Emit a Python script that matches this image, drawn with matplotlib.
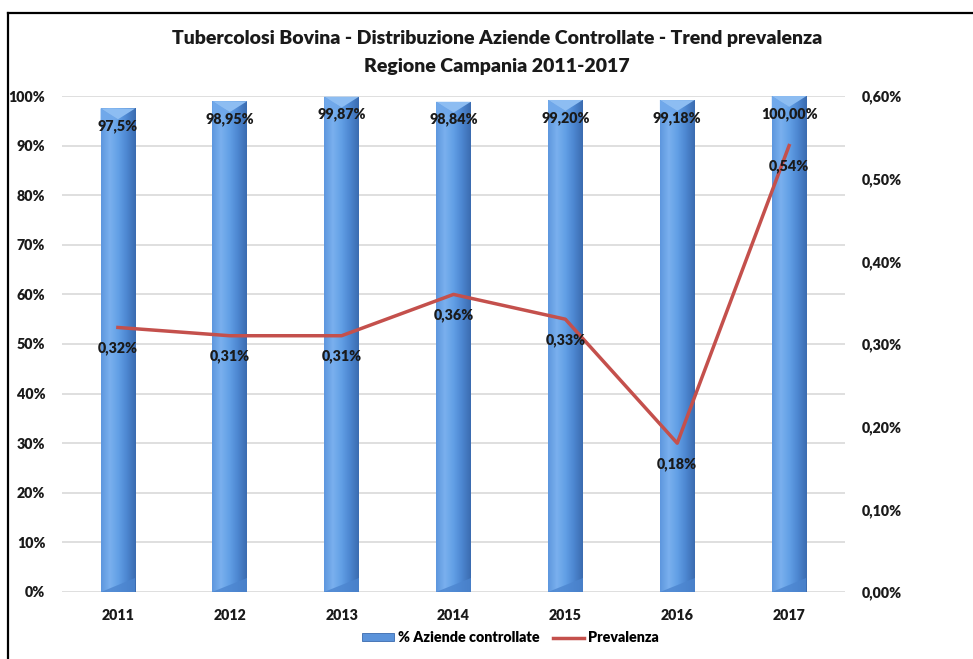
import numpy as np
import matplotlib
matplotlib.use("Agg")
import matplotlib.pyplot as plt
from matplotlib.patches import Polygon, Rectangle
from matplotlib.lines import Line2D
from matplotlib.colors import LinearSegmentedColormap

plt.rcParams["font.family"] = ["Lato", "DejaVu Sans"]
plt.rcParams["font.weight"] = "bold"

anni = ["2011", "2012", "2013", "2014", "2015", "2016", "2017"]
aziende_controllate = [97.5, 98.95, 99.87, 98.84, 99.20, 99.18, 100.00]
etichette_aziende = ["97,5%", "98,95%", "99,87%", "98,84%", "99,20%", "99,18%", "100,00%"]
prevalenza = [0.32, 0.31, 0.31, 0.36, 0.33, 0.18, 0.54]

fig = plt.figure(figsize=(9.73, 6.59), dpi=100)
ax = fig.add_axes([0.0637, 0.1017, 0.8048, 0.7526])
ax2 = ax.twinx()

x = np.arange(len(anni))
larg = 0.31
fs = 10.3

# griglia orizzontale
ax.set_yticks(np.arange(0, 101, 10))
ax.grid(axis="y", color="#D9D9D9", linewidth=1.2)
ax.set_axisbelow(True)

# barre con sfumatura tipo cilindro
cmap = LinearSegmentedColormap.from_list(
    "blu", ["#5E97DE", "#7AB0EE", "#62A0E6", "#4C86D0", "#3B6CB0"])
grad = np.linspace(0, 1, 64).reshape(1, -1)
bars = ax.bar(x, aziende_controllate, width=larg, color="#5B93DA", zorder=2)
for b in bars:
    x0, w, h = b.get_x(), b.get_width(), b.get_height()
    im = ax.imshow(grad, cmap=cmap, aspect="auto", extent=[x0, x0 + w, 0, h],
                   zorder=2.1, interpolation="bilinear")
    im.set_clip_path(b)
    # smusso superiore
    bev = 2.2
    ax.add_patch(Polygon([[x0, h], [x0 + w, h], [x0 + w / 2, h - bev]],
                         closed=True, facecolor="#8DBDF2", edgecolor="none",
                         zorder=2.2))
    ax.add_patch(Polygon([[x0, h], [x0 + w / 2, h - bev], [x0, h - bev * 1.3]],
                         closed=True, facecolor="#70A8EA", edgecolor="none",
                         zorder=2.2))
    # smusso inferiore
    ax.add_patch(Polygon([[x0, 0], [x0 + w, 0], [x0 + w, bev * 1.3]],
                         closed=True, facecolor="#4C85CF", edgecolor="none",
                         zorder=2.2, alpha=0.8))
ax.set_xlim(-0.5, len(anni) - 0.5)
ax.set_ylim(0, 100)
ax2.set_ylim(0, 0.6)

for xi, v, lab in zip(x, aziende_controllate, etichette_aziende):
    ax.text(xi, v - 3.6, lab, ha="center", va="center", fontsize=fs,
            fontweight="heavy", color="#1A1A1A", zorder=5)

# linea prevalenza
ax2.plot(x, prevalenza, color="#C4504C", linewidth=2.5, zorder=4)
for xi, v in zip(x, prevalenza):
    ax2.text(xi, v - 0.025, f"{v:.2f}%".replace(".", ","), ha="center",
             va="center", fontsize=fs, fontweight="heavy", color="#1A1A1A",
             zorder=5)

ax.set_xticks(x)
ax.set_xticklabels(anni)
ax.set_yticklabels([f"{int(t)}%" for t in np.arange(0, 101, 10)])
ax2.set_yticks(np.arange(0, 0.61, 0.1))
ax2.set_yticklabels([f"{t:.2f}%".replace(".", ",") for t in np.arange(0, 0.61, 0.1)])

for a in (ax, ax2):
    for s in a.spines.values():
        s.set_visible(False)
    a.tick_params(length=0, labelsize=fs, colors="#1A1A1A")
    for t in a.get_xticklabels() + a.get_yticklabels():
        t.set_fontweight("heavy")
ax.tick_params(axis="x", pad=12)
ax.tick_params(axis="y", pad=12)
ax2.tick_params(axis="y", pad=12)

fig.text(0.511, 0.942, "Tubercolosi Bovina - Distribuzione Aziende Controllate - Trend prevalenza",
         ha="center", va="center", fontsize=14.0, fontweight="heavy", color="#1A1A1A")
fig.text(0.511, 0.899, "Regione Campania 2011-2017",
         ha="center", va="center", fontsize=14.0, fontweight="heavy", color="#1A1A1A")

handles = [Rectangle((0, 0), 1, 1, facecolor="#5B93DA", edgecolor="#3A6AAE", linewidth=0.6),
           Line2D([0], [0], color="#C4504C", linewidth=2.5)]
leg = fig.legend(handles, ["% Aziende controllate", "Prevalenza"], loc="center",
                 bbox_to_anchor=(0.525, 0.032), ncol=2, frameon=False, fontsize=fs,
                 handlelength=2.2, handleheight=0.5, columnspacing=0.9, handletextpad=0.3)
for t in leg.get_texts():
    t.set_fontweight("heavy")

# cornice del grafico
fig.add_artist(Line2D([8 / 973, 1], [1 - 13 / 659, 1 - 13 / 659], color="black", linewidth=1.6,
                      transform=fig.transFigure))
fig.add_artist(Line2D([8 / 973, 8 / 973], [0, 1 - 13 / 659], color="black", linewidth=1.6,
                      transform=fig.transFigure))

fig.savefig("out.png", dpi=100)
